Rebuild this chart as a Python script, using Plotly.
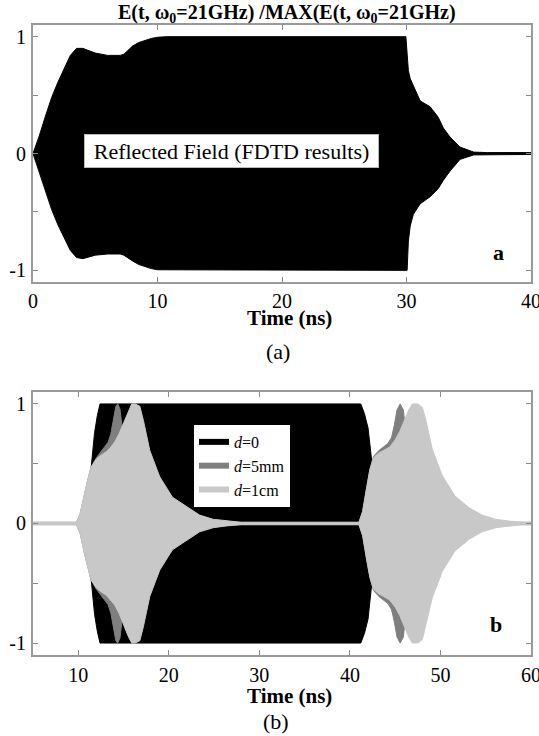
import plotly.graph_objects as go

# ---------------- panel (a): envelope of reflected field ----------------
t_a = [0, 0.5, 1.0, 1.5, 2.0, 2.5, 3.0, 3.5, 4.0, 5.0, 6.0, 7.0, 7.3, 7.6, 8.0, 8.5,
       9.0, 9.5, 10.0, 10.7, 29.95, 30.05, 30.15, 30.3, 30.55, 31.1, 31.9, 32.55,
       32.95, 33.5, 34.3, 35.4, 36.5, 40.0]
upper_a = [0, 0.15, 0.32, 0.48, 0.61, 0.73, 0.84, 0.90, 0.90, 0.86, 0.84, 0.84, 0.85,
           0.88, 0.92, 0.95, 0.97, 0.985, 0.995, 1.0, 1.0, 0.85, 0.71, 0.64, 0.58,
           0.45, 0.40, 0.31, 0.22, 0.14, 0.055, 0.012, 0.008, 0.008]
lower_a = [0, -0.15, -0.32, -0.48, -0.61, -0.72, -0.83, -0.89, -0.90, -0.87, -0.86,
           -0.86, -0.87, -0.89, -0.92, -0.95, -0.97, -0.985, -0.995, -1.0, -1.0, -1.0,
           -0.75, -0.62, -0.52, -0.43, -0.37, -0.30, -0.23, -0.15, -0.05, -0.012,
           -0.008, -0.008]

# ---------------- panel (b): envelopes for three thicknesses ----------------
t_d0 = [5, 10.0, 10.5, 11.0, 11.4, 11.8, 12.1, 12.4, 41.2, 41.6, 42.0, 42.3, 42.5,
        42.7, 42.9, 43.2, 60]
env_d0 = [0, 0, 0.10, 0.28, 0.45, 0.76, 0.90, 1.0, 1.0, 0.92, 0.80, 0.60, 0.45,
          0.30, 0.15, 0.02, 0]

t_d5 = [5, 9.8, 10.2, 10.65, 11.0, 11.4, 12.0, 12.5, 12.9, 13.3, 13.6, 13.9, 14.15,
        14.35, 14.6, 14.85, 15.1, 15.5, 16.5, 18.0, 20.0, 23.0, 41.0, 41.4, 41.8,
        42.2, 42.6, 43.2, 43.7, 44.2, 44.6, 44.9, 45.2, 45.55, 45.9, 46.15, 46.4,
        46.8, 47.8, 49.3, 51.3, 54.3, 60]
env_d5 = [0.01, 0.01, 0.08, 0.24, 0.35, 0.47, 0.55, 0.60, 0.64, 0.68, 0.75, 0.88,
          0.98, 1.0, 0.96, 0.80, 0.55, 0.35, 0.18, 0.08, 0.03, 0.01, 0.01, 0.10,
          0.28, 0.45, 0.56, 0.61, 0.64, 0.67, 0.72, 0.82, 0.95, 1.0, 0.95, 0.78,
          0.55, 0.35, 0.18, 0.08, 0.03, 0.01, 0.01]

t_d10 = [5, 9.8, 10.2, 10.65, 11.0, 11.4, 12.0, 12.5, 13.1, 13.5, 14.0, 14.5, 15.0,
         15.5, 15.9, 16.3, 16.8, 17.2, 17.9, 19.0, 20.4, 22.0, 23.4, 24.9, 26.4,
         28.0, 41.0, 41.4, 41.8, 42.2, 42.6, 43.2, 43.7, 44.4, 45.0, 45.5, 46.0,
         46.5, 46.9, 47.5, 48.0, 48.4, 49.1, 50.2, 51.6, 53.2, 54.6, 56.1, 57.6,
         59.0, 60]
env_d10 = [0.01, 0.01, 0.08, 0.24, 0.35, 0.47, 0.54, 0.57, 0.60, 0.63, 0.68, 0.75,
           0.84, 0.94, 1.0, 1.0, 0.98, 0.86, 0.61, 0.39, 0.22, 0.14, 0.07, 0.035,
           0.02, 0.01, 0.01, 0.10, 0.28, 0.45, 0.55, 0.59, 0.61, 0.64, 0.70, 0.77,
           0.86, 0.95, 1.0, 1.0, 0.97, 0.86, 0.62, 0.40, 0.23, 0.13, 0.07, 0.035,
           0.02, 0.01, 0.01]

series_b = [
    ("<i>d</i>=0", t_d0, env_d0, "#000000"),
    ("<i>d</i>=5mm", t_d5, env_d5, "#7f7f7f"),
    ("<i>d</i>=1cm", t_d10, env_d10, "#c8c8c8"),
]

x_ticks_a = [0, 10, 20, 30, 40]
x_ticks_b = [10, 20, 30, 40, 50, 60]
y_ticks = [-1, -0.5, 0, 0.5, 1]
y_tick_text = ["-1", "", "0", "", "1"]

SERIF = "Times New Roman"


def band(t, up, lo):
    xs = list(t) + list(reversed(t))
    ys = list(up) + list(reversed(lo))
    return xs, ys


fig = go.Figure()

xs, ys = band(t_a, upper_a, lower_a)
fig.add_trace(go.Scatter(x=xs, y=ys, fill="toself", fillcolor="#000000",
                         line=dict(color="#000000", width=1), mode="lines",
                         hoverinfo="skip", showlegend=False, xaxis="x", yaxis="y"))

for name, t, env, col in series_b:
    xs, ys = band(t, env, [-v for v in env])
    fig.add_trace(go.Scatter(x=xs, y=ys, fill="toself", fillcolor=col,
                             line=dict(color=col, width=1), mode="lines",
                             hoverinfo="skip", showlegend=False,
                             xaxis="x2", yaxis="y2"))

for name, t, env, col in series_b:
    fig.add_trace(go.Scatter(x=[None], y=[None], mode="lines", name=name,
                             line=dict(color=col, width=6),
                             xaxis="x2", yaxis="y2"))

axis_common = dict(showline=True, linecolor="#9a9a9a", linewidth=2, mirror="ticks",
                   ticks="inside", ticklen=5, tickwidth=1, tickcolor="#8a8a8a",
                   showgrid=False, zeroline=False, automargin=False,
                   ticklabeloverflow="allow",
                   tickfont=dict(family=SERIF, size=20, color="#000000"))

fig.update_layout(
    width=539, height=736,
    margin=dict(l=33, r=8, t=25, b=81),
    paper_bgcolor="white", plot_bgcolor="white",
    font=dict(family=SERIF),
    xaxis=dict(domain=[0, 1], anchor="y", range=[0, 40], tickvals=x_ticks_a,
               ticklabelstandoff=0, **axis_common),
    yaxis=dict(domain=[0.592, 1], anchor="x", range=[-1.1, 1.1], tickvals=y_ticks,
               ticktext=y_tick_text, ticklabelstandoff=1, **axis_common),
    xaxis2=dict(domain=[0, 1], anchor="y2", range=[5, 60], tickvals=x_ticks_b,
                ticklabelstandoff=1, **axis_common),
    yaxis2=dict(domain=[0, 0.4175], anchor="x2", range=[-1.1, 1.1], tickvals=y_ticks,
                ticktext=y_tick_text, ticklabelstandoff=1, **axis_common),
    legend=dict(x=0.3213, y=0.3667, xanchor="left", yanchor="top",
                bgcolor="white", bordercolor="#000000", borderwidth=1,
                font=dict(family=SERIF, size=16, color="#000000"),
                itemwidth=30, tracegroupgap=0),
    showlegend=True,
)

ann_font = dict(family=SERIF, color="#000000")
fig.add_annotation(text="<b>E(t, ω<sub>0</sub>=21GHz) /MAX(E(t, ω<sub>0</sub>=21GHz)</b>",
                   xref="paper", yref="paper", x=0.51, y=1.0, xanchor="center",
                   yanchor="bottom", yshift=-3, showarrow=False,
                   font=dict(size=20, **ann_font))
fig.add_annotation(text="Reflected Field (FDTD results)", xref="x", yref="y",
                   x=15.94, y=0.02, showarrow=False, bgcolor="white",
                   bordercolor="#bbbbbb", borderwidth=1, borderpad=1,
                   width=291, height=30, font=dict(size=22, **ann_font))
fig.add_annotation(text="<b>a</b>", xref="x", yref="y", x=37.35, y=-0.846,
                   showarrow=False, font=dict(size=22, **ann_font))
fig.add_annotation(text="<b>b</b>", xref="x2", yref="y2", x=56.1, y=-0.844,
                   showarrow=False, font=dict(size=22, **ann_font))
fig.add_annotation(text="<b>Time (ns)</b>", xref="paper", yref="paper", x=0.516,
                   y=0.535, xanchor="center", yanchor="middle", showarrow=False,
                   font=dict(size=21, **ann_font))
fig.add_annotation(text="<b>Time (ns)</b>", xref="paper", yref="paper", x=0.516,
                   y=-0.065, xanchor="center", yanchor="middle", showarrow=False,
                   font=dict(size=21, **ann_font))
fig.add_annotation(text="(a)", xref="paper", yref="paper", x=0.492, y=0.4825,
                   xanchor="center", yanchor="middle", showarrow=False,
                   font=dict(size=22, **ann_font))
fig.add_annotation(text="(b)", xref="paper", yref="paper", x=0.488, y=-0.106,
                   xanchor="center", yanchor="middle", showarrow=False,
                   font=dict(size=22, **ann_font))

fig.write_html("out.html", config={"displayModeBar": False},
               post_script="document.body.style.margin='0px';"
                           "document.body.style.overflow='hidden';")
